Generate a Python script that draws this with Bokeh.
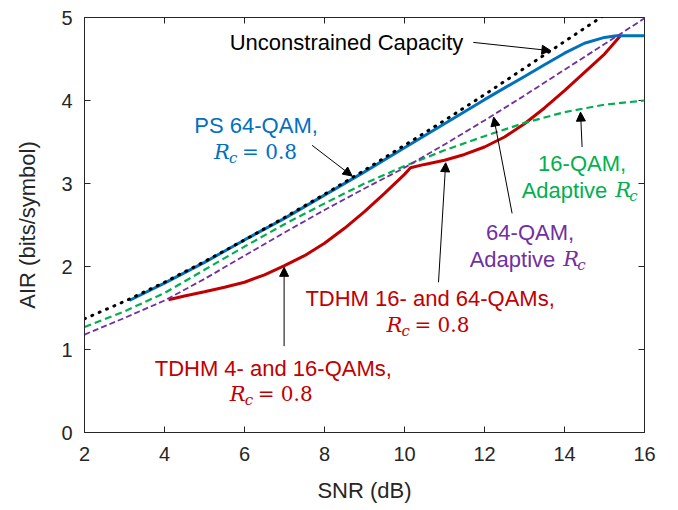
import math
from bokeh.plotting import figure
from bokeh.models import Label, Arrow, NormalHead, Range1d, FixedTicker
from bokeh.embed import file_html
from bokeh.resources import INLINE

# ---------------- data ----------------
x_ticks = [2, 4, 6, 8, 10, 12, 14, 16]
y_ticks = [0, 1, 2, 3, 4, 5]

snr_cap = [2, 3, 4, 5, 6, 7, 8, 9, 10, 11, 12, 13, 14, 14.5, 15]
air_cap = [1.37, 1.58, 1.81, 2.06, 2.32, 2.59, 2.87, 3.16, 3.46, 3.76, 4.07, 4.39, 4.71, 4.87, 5.03]

snr_ps = [3.12, 4, 5, 6, 7, 8, 9, 10, 11, 12, 13, 13.5, 14, 14.5, 15, 15.3, 16]
air_ps = [1.59, 1.80, 2.05, 2.32, 2.58, 2.86, 3.14, 3.43, 3.72, 4.01, 4.29, 4.43, 4.57, 4.69, 4.76, 4.78, 4.78]

snr_16 = [2, 3, 4, 5, 6, 7, 8, 9, 10, 11, 12, 13, 14, 15, 16]
air_16 = [1.27, 1.46, 1.68, 1.96, 2.24, 2.51, 2.76, 3.00, 3.21, 3.40, 3.57, 3.73, 3.86, 3.95, 4.00]

snr_64 = [2, 3, 4, 5, 6, 7, 8, 9, 10, 11, 12, 13, 14, 15, 16]
air_64 = [1.18, 1.38, 1.59, 1.85, 2.13, 2.41, 2.68, 2.94, 3.19, 3.47, 3.76, 4.06, 4.37, 4.68, 4.99]

snr_tdhm = [4.1, 4.5, 5, 5.5, 6, 6.5, 7, 7.5, 8, 8.5, 9, 9.5, 10, 10.15,
            10.5, 11, 11.5, 12, 12.5, 13, 13.5, 14, 14.5, 15, 15.4]
air_tdhm = [1.60, 1.645, 1.695, 1.75, 1.81, 1.90, 2.01, 2.13, 2.28, 2.46, 2.66, 2.88, 3.11, 3.19,
            3.23, 3.28, 3.35, 3.44, 3.56, 3.72, 3.91, 4.12, 4.34, 4.56, 4.78]

# ---------------- figure ----------------
AX = "#262626"
SANS = "Liberation Sans"
p = figure(width=678, height=510, x_range=Range1d(x_ticks[0], x_ticks[-1]),
           y_range=Range1d(y_ticks[0], y_ticks[-1]),
           output_backend="svg", toolbar_location=None,
           min_border_left=84, min_border_right=34, min_border_top=17, min_border_bottom=78)
p.grid.visible = False
p.outline_line_color = AX
p.outline_line_width = 1
p.background_fill_color = "white"
p.border_fill_color = "white"

for ax, ticks in ((p.xaxis[0], x_ticks), (p.yaxis[0], y_ticks)):
    ax.ticker = FixedTicker(ticks=ticks)
    ax.major_tick_in = 6
    ax.major_tick_out = 0
    ax.minor_tick_in = 0
    ax.minor_tick_out = 0
    ax.axis_line_color = AX
    ax.major_tick_line_color = AX
    ax.major_label_text_font = SANS
    ax.major_label_text_font_size = "20px"
    ax.major_label_text_color = AX
    ax.axis_label_text_font = SANS
    ax.axis_label_text_font_size = "22px"
    ax.axis_label_text_font_style = "normal"
    ax.axis_label_text_color = AX

p.xaxis.axis_label = "SNR (dB)"
p.xaxis.major_label_standoff = 14
p.xaxis.axis_label_standoff = 14
p.yaxis.axis_label = "AIR (bits/symbol)"
p.yaxis.major_label_standoff = 12
p.yaxis.axis_label_standoff = 18

# mirrored inward ticks on the right and top edges (half of each dash is clipped by the frame)
p.scatter([x_ticks[-1]] * len(y_ticks), y_ticks, marker="dash", size=12,
          line_color=AX, line_width=1)
p.scatter(x_ticks, [y_ticks[-1]] * len(x_ticks), marker="dash", size=12, angle=math.pi / 2,
          line_color=AX, line_width=1)

# ---------------- curves ----------------
p.line(snr_tdhm, air_tdhm, line_color="#C00000", line_width=3)
p.line(snr_ps, air_ps, line_color="#0072BD", line_width=3)
p.line(snr_16, air_16, line_color="#00B050", line_width=2.2, line_dash="7 4")
p.line(snr_64, air_64, line_color="#7030A0", line_width=1.8, line_dash="6 3")
p.line(snr_cap, air_cap, line_color="black", line_width=3, line_dash="1 7", line_cap="round")

# ---------------- annotations ----------------
def text(x, y, s, color, size="22px", font=SANS, style="normal", align="center", xo=0, yo=0):
    p.add_layout(Label(x=x, y=y, text=s, text_color=color, text_font=font, text_font_size=size,
                       text_font_style=style, text_align=align, text_baseline="middle",
                       x_offset=xo, y_offset=yo))

SERIF = "DejaVu Serif"

def rc(x, y, color):
    text(x, y, "R", color, size="21px", font=SERIF, style="italic", align="left", xo=-42)
    text(x, y, "c", color, size="15px", font=SERIF, style="italic", align="left", xo=-27, yo=-6)
    text(x, y, "= 0.8", color, size="20px", font=SERIF, align="left", xo=-14)

def adaptive(x, y, color):
    text(x, y, "Adaptive", color, align="right", xo=26)
    text(x, y, "R", color, size="21px", font=SERIF, style="italic", align="left", xo=34)
    text(x, y, "c", color, size="15px", font=SERIF, style="italic", align="left", xo=48, yo=-6)

def arrow(x0, y0, x1, y1):
    p.add_layout(Arrow(end=NormalHead(size=9, fill_color="black", line_color="black", line_width=1),
                       x_start=x0, y_start=y0, x_end=x1, y_end=y1,
                       line_color="black", line_width=1))

BLUE, GREEN, PURPLE, RED = "#0070C0", "#00B050", "#7030A0", "#C00000"

text(8.55, 4.70, "Unconstrained Capacity", "black")
arrow(11.72, 4.70, 13.66, 4.60)

text(6.29, 3.70, "PS 64-QAM,", BLUE)
rc(6.29, 3.377, BLUE)
arrow(7.69, 3.46, 8.69, 3.09)

text(14.44, 3.24, "16-QAM,", GREEN)
adaptive(14.42, 2.916, GREEN)
arrow(14.44, 3.44, 14.40, 3.86)

text(13.14, 2.41, "64-QAM,", PURPLE)
adaptive(13.12, 2.09, PURPLE)
arrow(12.69, 2.64, 12.23, 3.80)

text(10.64, 1.61, "TDHM 16- and 64-QAMs,", RED)
rc(10.60, 1.29, RED)
arrow(10.85, 1.81, 11.03, 3.25)

text(6.72, 0.767, "TDHM 4- and 16-QAMs,", RED)
rc(6.68, 0.466, RED)
arrow(6.99, 1.04, 6.99, 1.99)

open("out.html", "w").write(file_html(p, INLINE))
